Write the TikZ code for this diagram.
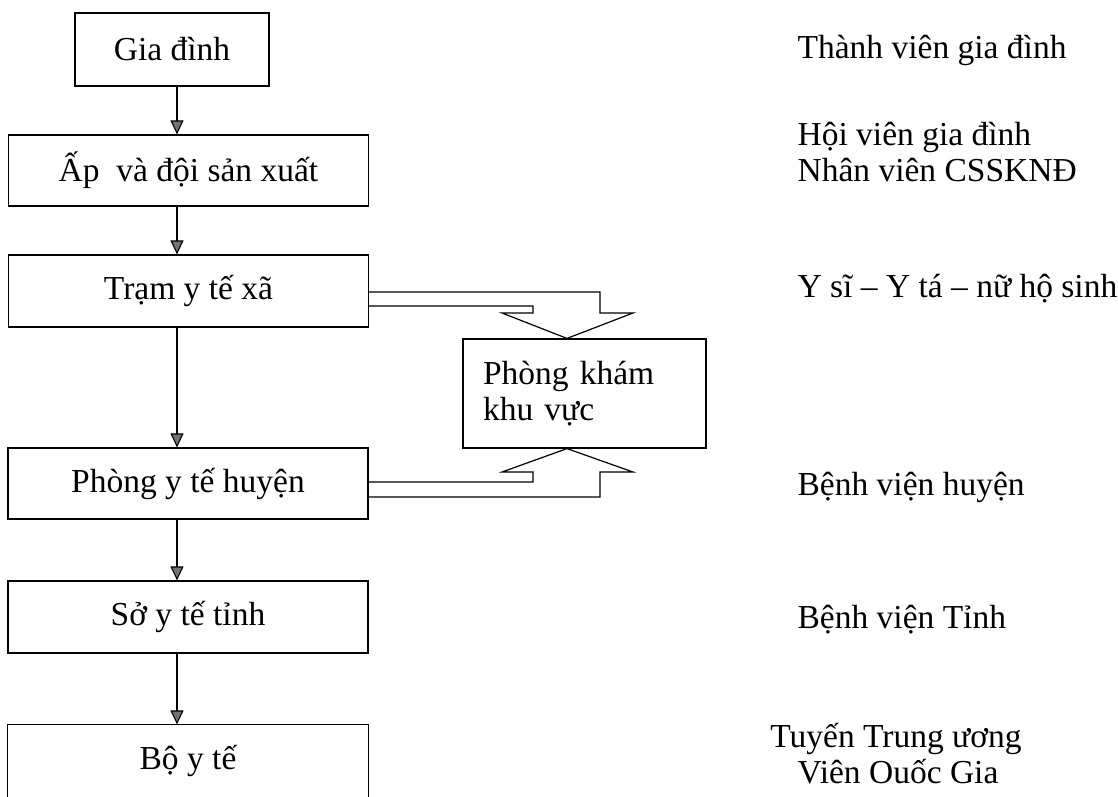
\documentclass[tikz,border=0pt]{standalone}
\usepackage{fontspec}
\setmainfont{Liberation Serif}
\usetikzlibrary{arrows.meta}
\begin{document}
\begin{tikzpicture}[x=1pt,y=-1pt,
  font=\fontsize{33.5}{36}\selectfont,
  line width=1.2pt,
  box/.style={draw, inner sep=0pt, minimum width=360pt, minimum height=71pt},
  flow/.style={-{Triangle[length=14pt,width=13pt,fill=black!55]}, line width=1.1pt},
  lbl/.style={anchor=base west, inner sep=0pt},
  lblc/.style={anchor=base, inner sep=0pt},
  fat/.style={line width=1.2pt, line join=miter}]
\useasboundingbox (0,0) rectangle (1118,796);
% left column
\node[box, minimum width=194pt, minimum height=73pt] (b1) at (172,49.5) {Gia đình};
\node[box] (b2) at (188.5,170.5) {Ấp\ \ và đội sản xuất};
\node[box, minimum height=72pt] (b3) at (188.5,291) {Trạm y tế xã};
\node[box] (b4) at (188,483.5) {Phòng y tế huyện};
\node[box, minimum height=72pt] (b5) at (188,617) {Sở y tế tỉnh};
\node[inner sep=0pt, minimum width=360pt, minimum height=72pt] (b6) at (188,761) {Bộ y tế};
\draw (b6.south west) |- (b6.north east) -- (b6.south east);
% vertical connectors
\coordinate (ax) at (177,0);
\draw[flow] (b1.south -| ax) -- (b2.north -| ax);
\draw[flow] (b2.south -| ax) -- (b3.north -| ax);
\draw[flow] (b3.south -| ax) -- (b4.north -| ax);
\draw[flow] (b4.south -| ax) -- (b5.north -| ax);
\draw[flow] (b5.south -| ax) -- (b6.north -| ax);
% regional clinic
\node[draw, text width=203pt, inner xsep=20pt, inner ysep=0pt, minimum height=109pt, align=left] (pk) at (584.5,393.5) {Phòng khám\\khu vực};
% bent block arrows
\draw[fat] (b3.east |- 0,292) -- (600,292) -- (600,313) -- (633,313) -- (pk.north -| 567,0) -- (502,313) -- (533,313) -- (533,306) -- (b3.east |- 0,306);
\draw[fat] (b4.east |- 0,497) -- (600,497) -- (600,472) -- (633,472) -- (pk.south -| 567,0) -- (502,472) -- (533,472) -- (533,482) -- (b4.east |- 0,482);
% right column
\node[lbl] (r1) at (797,58) {Thành viên gia đình};
\node[lbl] (r2) at (797,145) {Hội viên gia đình};
\node[lbl] (r3) at (797,181) {Nhân viên CSSKNĐ};
\node[lbl] (r4) at (797,297) {Y sĩ – Y tá – nữ hộ sinh};
\node[lbl] (r5) at (797,495) {Bệnh viện huyện};
\node[lbl] (r6) at (797,628) {Bệnh viện Tỉnh};
\node[lblc] (r7) at (896,747) {Tuyến Trung ương};
\node[lblc] (r8) at (898,783) {Viên Ouốc Gia};
\end{tikzpicture}
\end{document}
